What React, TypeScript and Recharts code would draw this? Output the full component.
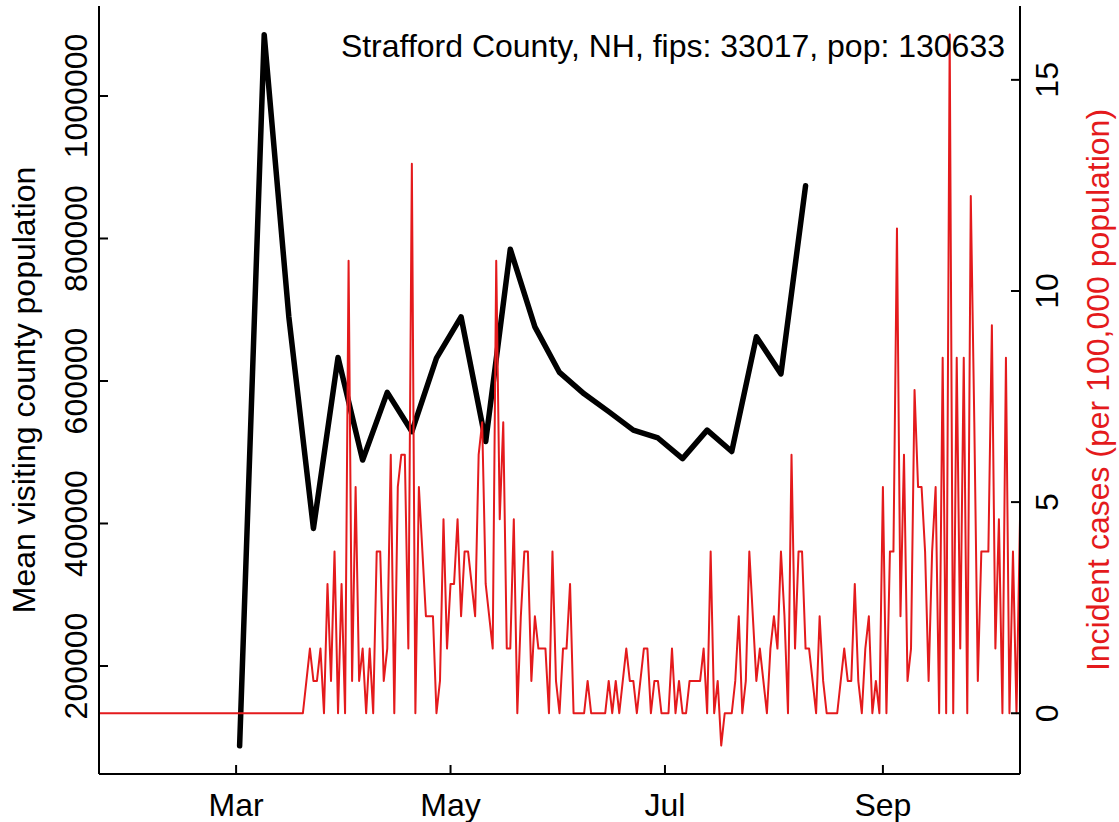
import React from 'react';
import { ComposedChart, Line, XAxis, YAxis } from 'recharts';

// Day 0 = 2020-01-22 (one value per day up to 2020-10-10)
const dailyCases = [
  0, 0, 0, 0, 0, 0, 0, 0, 0, 0,
  0, 0, 0, 0, 0, 0, 0, 0, 0, 0,
  0, 0, 0, 0, 0, 0, 0, 0, 0, 0,
  0, 0, 0, 0, 0, 0, 0, 0, 0, 0,
  0, 0, 0, 0, 0, 0, 0, 0, 0, 0,
  0, 0, 0, 0, 0, 0, 0, 0,
  0, 1, 2, 1, 1, 2, 0, 4, 1, 5,
  0, 4, 0, 14, 1, 7, 1, 2, 0, 2,
  0, 5, 5, 1, 2, 8, 0, 7, 8, 8,
  2, 17, 0, 7, 5, 3, 3, 3, 0, 1,
  6, 2, 4, 4, 6, 3, 5, 5, 4, 3,
  8, 9, 4, 3, 2, 14, 6, 9, 2, 2,
  6, 0, 3, 5, 5, 1, 3, 2, 2, 2,
  0, 5, 1, 0, 2, 2, 4, 0, 0, 0,
  0, 1, 0, 0, 0, 0, 0, 1, 0, 1,
  0, 1, 2, 1, 1, 0, 1, 2, 2, 0,
  1, 1, 0, 0, 0, 2, 0, 1, 0, 0,
  1, 1, 1, 1, 2, 0, 5, 0, 1, -1,
  0, 0, 0, 1, 3, 0, 1, 5, 3, 1,
  2, 1, 0, 2, 3, 2, 5, 3, 0, 8,
  2, 5, 5, 2, 2, 1, 0, 3, 1, 0,
  0, 0, 0, 1, 2, 1, 1, 4, 1, 0,
  2, 3, 0, 1, 0, 7, 0, 5, 5, 15,
  3, 8, 1, 2, 10, 7, 7, 5, 1, 5,
  7, 0, 11, 0, 21, 0, 11, 2, 11, 0,
  16, 9, 1, 5, 5, 5, 12, 2, 6, 0,
  11, 0, 5, 0, 6,
];
const countyPopulation = 130633;

// Weekly series, weeks starting 2020-03-02 (day 40)
const weekDays = [40, 47, 54, 61, 68, 75, 82, 89, 96, 103, 110, 117, 124, 131, 138, 145, 152, 159, 166, 173, 180, 187, 194, 201];
const meanVisitingPop = [
  88000, 1086000, 690000, 393000, 633000, 489000, 584000, 529000,
  632000, 690000, 515000, 785000, 676000, 612000, 582000, 557000,
  531000, 520000, 491000, 531000, 501000, 662000, 610000, 874000,
];

const xTickDays = [39, 100, 161, 223];
const xTickLabels = ['Mar', 'May', 'Jul', 'Sep'];
const leftTicks = [200000, 400000, 600000, 800000, 1000000];
const rightTicks = [0, 5, 10, 15];

const titleText = 'Strafford County, NH, fips: 33017, pop: 130633';
const leftTitle = 'Mean visiting county population';
const rightTitle = 'Incident cases (per 100,000 population)';

const RED = '#E41A1C';
const FONT = '"Liberation Sans", Arial, Helvetica, sans-serif';
const FS = 32;

const data = dailyCases.map((c, i) => ({
  day: i,
  incidence: (c * 100000) / countyPopulation,
  visit: null as number | null,
}));
weekDays.forEach((d, k) => {
  data[d].visit = meanVisitingPop[k];
});

const BottomTick = (props: any) => {
  const { x, y, payload } = props;
  const idx = xTickDays.indexOf(payload.value);
  return (
    <g>
      <line x1={x} y1={y} x2={x} y2={y - 9} stroke="#000" strokeWidth={2} />
      <text x={x} y={y + 42} textAnchor="middle" fontSize={FS} fontFamily={FONT} fill="#000">
        {idx >= 0 ? xTickLabels[idx] : ''}
      </text>
    </g>
  );
};

const LeftTick = (props: any) => {
  const { x, y, payload } = props;
  const tx = x - 12;
  return (
    <g>
      <line x1={x} y1={y} x2={x + 9} y2={y} stroke="#000" strokeWidth={2} />
      <text x={tx} y={y} transform={`rotate(-90, ${tx}, ${y})`} textAnchor="middle" fontSize={FS} fontFamily={FONT} fill="#000">
        {String(payload.value)}
      </text>
    </g>
  );
};

const RightTick = (props: any) => {
  const { x, y, payload } = props;
  const tx = x + 38;
  return (
    <g>
      <line x1={x} y1={y} x2={x - 9} y2={y} stroke="#000" strokeWidth={2} />
      <text x={tx} y={y} transform={`rotate(-90, ${tx}, ${y})`} textAnchor="middle" fontSize={FS} fontFamily={FONT} fill="#000">
        {String(payload.value)}
      </text>
    </g>
  );
};

export default function App() {
  return (
    <div style={{ position: 'absolute', left: 0, top: 0, width: 1119, height: 822, background: '#fff' }}>
      <ComposedChart width={1119} height={822} data={data} margin={{ top: 6, right: 0, bottom: 0, left: 0 }}>
        <XAxis
          dataKey="day"
          type="number"
          domain={[0, 262]}
          ticks={xTickDays}
          interval={0}
          height={48}
          tickSize={0}
          tickMargin={0}
          tickLine={false}
          tick={<BottomTick />}
          axisLine={{ stroke: '#000', strokeWidth: 2 }}
          allowDataOverflow
        />
        <XAxis
          xAxisId="top"
          orientation="top"
          dataKey="day"
          type="number"
          domain={[0, 262]}
          height={0}
          tick={false}
          tickLine={false}
          axisLine={{ stroke: '#000', strokeWidth: 2 }}
          allowDataOverflow
        />
        <YAxis
          yAxisId="left"
          orientation="left"
          type="number"
          width={99}
          domain={[48400, 1126300]}
          ticks={leftTicks}
          interval={0}
          tickSize={0}
          tickMargin={0}
          tickLine={false}
          tick={<LeftTick />}
          axisLine={{ stroke: '#000', strokeWidth: 2 }}
          allowDataOverflow
        />
        <YAxis
          yAxisId="right"
          orientation="right"
          type="number"
          width={99}
          domain={[-1.439, 16.749]}
          ticks={rightTicks}
          interval={0}
          tickSize={0}
          tickMargin={0}
          tickLine={false}
          tick={<RightTick />}
          axisLine={{ stroke: '#000', strokeWidth: 2 }}
          allowDataOverflow
        />
        <Line
          yAxisId="left"
          dataKey="visit"
          type="linear"
          stroke="#000"
          strokeWidth={5.5}
          strokeLinejoin="round"
          strokeLinecap="round"
          dot={false}
          connectNulls
          isAnimationActive={false}
        />
        <Line
          yAxisId="right"
          dataKey="incidence"
          type="linear"
          stroke={RED}
          strokeWidth={2}
          strokeLinejoin="round"
          dot={false}
          isAnimationActive={false}
        />
      </ComposedChart>
      <svg width={1119} height={822} style={{ position: 'absolute', left: 0, top: 0, pointerEvents: 'none' }}>
        <text x={1005} y={57} textAnchor="end" fontSize={FS} fontFamily={FONT} fill="#000">
          {titleText}
        </text>
        <text x={35} y={390} transform="rotate(-90, 35, 390)" textAnchor="middle" fontSize={FS} fontFamily={FONT} fill="#000">
          {leftTitle}
        </text>
        <text x={1109} y={390} transform="rotate(-90, 1109, 390)" textAnchor="middle" fontSize={FS} fontFamily={FONT} fill={RED}>
          {rightTitle}
        </text>
      </svg>
    </div>
  );
}
